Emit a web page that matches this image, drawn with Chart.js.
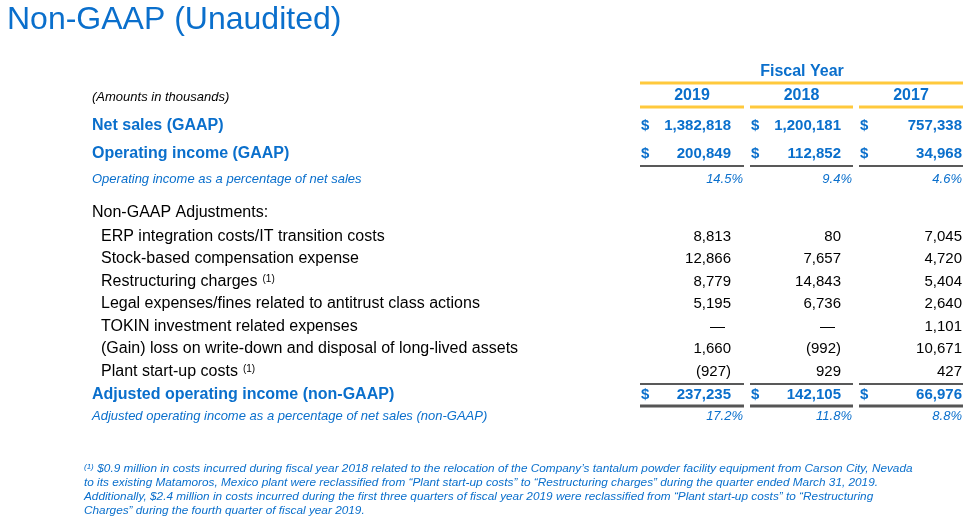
<!DOCTYPE html>
<html>
<head>
<meta charset="utf-8">
<script src="https://cdn.jsdelivr.net/npm/chart.js@4"></script>
<style>
  html, body { margin: 0; padding: 0; background: #fff; }
  #wrap { width: 973px; height: 523px; }
</style>
</head>
<body>
<div id="wrap"><canvas id="tbl"></canvas></div>
<script>
// Table data
const years = ['2019', '2018', '2017'];
const netSales = ['1,382,818', '1,200,181', '757,338'];
const opIncome = ['200,849', '112,852', '34,968'];
const opPct = ['14.5%', '9.4%', '4.6%'];
const adjLabels = [
    'ERP integration costs/IT transition costs',
    'Stock-based compensation expense',
    'Restructuring charges',
    'Legal expenses/fines related to antitrust class actions',
    'TOKIN investment related expenses',
    '(Gain) loss on write-down and disposal of long-lived assets',
    'Plant start-up costs'
];
const adj2019 = ['8,813', '12,866', '8,779', '5,195', '—', '1,660', '(927)'];
const adj2018 = ['80', '7,657', '14,843', '6,736', '—', '(992)', '929'];
const adj2017 = ['7,045', '4,720', '5,404', '2,640', '1,101', '10,671', '427'];
const adjIncome = ['237,235', '142,105', '66,976'];
const adjPct = ['17.2%', '11.8%', '8.8%'];
const footnote = [
    ' $0.9 million in costs incurred during fiscal year 2018 related to the relocation of the Company\u2019s tantalum powder facility equipment from Carson City, Nevada',
    'to its existing Matamoros, Mexico plant were reclassified from \u201cPlant start-up costs\u201d to \u201cRestructuring charges\u201d during the quarter ended March 31, 2019.',
    'Additionally, $2.4 million in costs incurred during the first three quarters of fiscal year 2019 were reclassified from \u201cPlant start-up costs\u201d to \u201cRestructuring',
    'Charges\u201d during the fourth quarter of fiscal year 2019.'
];

// Layout
const BLUE = '#0a6fcc';
const FONT = '"Liberation Sans", Arial, sans-serif';
const colRight = [731, 841, 962];
const colDollar = [641, 751, 860];
const colStart = [640, 750, 859];
const colEnd = [744, 853, 963];
const rowY = {
    fiscal: 72, year: 96, net: 126, op: 154, pct: 179, hdr: 213,
    adj: [237, 259, 282, 304, 327, 349, 372], adjInc: 395, adjPct: 416
};

const tablePlugin = {
    id: 'tablePlugin',
    afterDraw(chart) {
        const ctx = chart.ctx;
        const xs = chart.scales.x, ys = chart.scales.y;
        const X = v => xs.getPixelForValue(v);
        const Y = v => ys.getPixelForValue(v);
        ctx.save();
        ctx.textBaseline = 'middle';
        function text(s, x, y, font, color, align) {
            ctx.font = font;
            ctx.fillStyle = color;
            ctx.textAlign = align || 'left';
            ctx.fillText(s, X(x), Y(y));
        }
        function line(x1, x2, y, color, w) {
            ctx.strokeStyle = color;
            ctx.lineWidth = w;
            ctx.beginPath();
            ctx.moveTo(X(x1), Y(y));
            ctx.lineTo(X(x2), Y(y));
            ctx.stroke();
        }
        // title
        ctx.textBaseline = 'alphabetic';
        text('Non-GAAP (Unaudited)', 7, 29, '32px ' + FONT, BLUE);
        ctx.textBaseline = 'middle';

        const bold = 'bold 16px ' + FONT;
        const boldVal = 'bold 15px ' + FONT;
        const reg = '16px ' + FONT;
        const regVal = '15px ' + FONT;
        const ital = 'italic 13px ' + FONT;

        // header
        text('Fiscal Year', 802, rowY.fiscal, bold, BLUE, 'center');
        line(640, 963, 83, '#ffc93c', 3);
        text('(Amounts in thousands)', 92, rowY.year + 1, ital, '#000');
        years.forEach((yr, i) => {
            text(yr, (colStart[i] + colEnd[i]) / 2, rowY.year, bold, BLUE, 'center');
            line(colStart[i], colEnd[i], 107, '#ffc93c', 3);
        });

        text('Net sales (GAAP)', 92, rowY.net, bold, BLUE);
        text('Operating income (GAAP)', 92, rowY.op, bold, BLUE);
        text('Operating income as a percentage of net sales', 92, rowY.pct, ital, BLUE);
        years.forEach((yr, i) => {
            text('$', colDollar[i], rowY.net, boldVal, BLUE);
            text(netSales[i], colRight[i], rowY.net, boldVal, BLUE, 'right');
            text('$', colDollar[i], rowY.op, boldVal, BLUE);
            text(opIncome[i], colRight[i], rowY.op, boldVal, BLUE, 'right');
            line(colStart[i], colEnd[i], 166, '#222', 1.5);
            text(opPct[i], colEnd[i] - 1, rowY.pct, ital, BLUE, 'right');
        });

        text('Non-GAAP Adjustments:', 92, rowY.hdr, reg, '#000');
        const adjCols = [adj2019, adj2018, adj2017];
        adjLabels.forEach((lab, r) => {
            const y = rowY.adj[r];
            text(lab, 101, y, reg, '#000');
            if (r === 2 || r === 6) {
                ctx.font = reg;
                const w = ctx.measureText(lab).width;
                text('(1)', 101 + w + 5, y - 3, '10px ' + FONT, '#000');
            }
            adjCols.forEach((col, i) => {
                if (col[r] === '—') {
                    text('—', colRight[i] - 6, y, regVal, '#000', 'right');
                } else {
                    text(col[r], colRight[i], y, regVal, '#000', 'right');
                }
            });
        });
        years.forEach((yr, i) => line(colStart[i], colEnd[i], 384, '#222', 1.5));

        text('Adjusted operating income (non-GAAP)', 92, rowY.adjInc, bold, BLUE);
        text('Adjusted operating income as a percentage of net sales (non-GAAP)', 92, rowY.adjPct, ital, BLUE);
        years.forEach((yr, i) => {
            text('$', colDollar[i], rowY.adjInc, boldVal, BLUE);
            text(adjIncome[i], colRight[i], rowY.adjInc, boldVal, BLUE, 'right');
            line(colStart[i], colEnd[i], 406, '#555', 3);
            text(adjPct[i], colEnd[i] - 1, rowY.adjPct, ital, BLUE, 'right');
        });

        // footnote
        const fy = [469, 483, 497, 511];
        text('(1)', 84, fy[0] - 2, 'italic 8px ' + FONT, BLUE);
        footnote.forEach((s, i) => {
            text(s, i === 0 ? 94 : 84, fy[i], 'italic 11.8px ' + FONT, BLUE);
        });
        ctx.restore();
    }
};

new Chart(document.getElementById('tbl'), {
    type: 'scatter',
    data: { datasets: [{ data: [] }] },
    options: {
        responsive: true,
        maintainAspectRatio: false,
        animation: false,
        layout: { padding: 0 },
        plugins: { legend: { display: false }, tooltip: { enabled: false } },
        scales: {
            x: { type: 'linear', min: 0, max: 973, display: false },
            y: { type: 'linear', min: 0, max: 523, reverse: true, display: false }
        }
    },
    plugins: [tablePlugin]
});
</script>
</body>
</html>
